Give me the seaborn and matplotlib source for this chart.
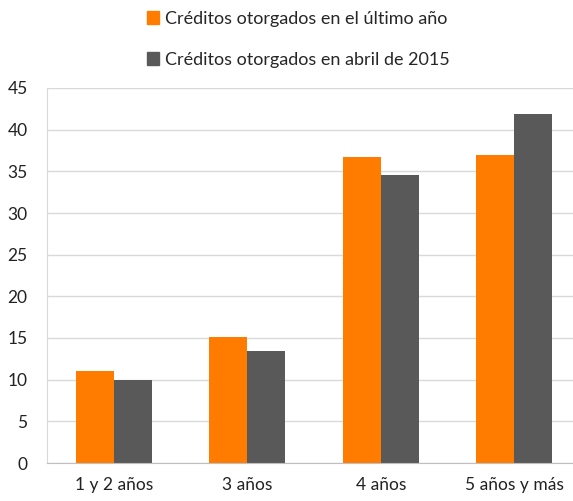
import numpy as np
import pandas as pd
import seaborn as sns
import matplotlib.pyplot as plt

sns.set_style('white')
plt.rcParams['font.family'] = ['Lato', 'DejaVu Sans']

# datos
categorias = ['1 y 2 años', '3 años', '4 años', '5 años y más']
serie_ultimo = [11.0, 15.1, 36.7, 37.0]
serie_abril = [10.0, 13.5, 34.6, 41.9]
nombres = ['Créditos otorgados en el último año', 'Créditos otorgados en abril de 2015']
colores = ['#FF7C00', '#595959']

df = pd.DataFrame({
    'categoria': categorias * 2,
    'valor': serie_ultimo + serie_abril,
    'serie': [nombres[0]] * 4 + [nombres[1]] * 4,
})

fig = plt.figure(figsize=(5.73, 5.01), dpi=100)
ax = fig.add_axes([47 / 573, 38 / 501, 534 / 573, 375 / 501])

sns.barplot(data=df, x='categoria', y='valor', hue='serie', palette=colores,
            width=0.57, ax=ax, legend=False, saturation=1, linewidth=0)

ax.set_xlim(-0.5, 3.5)
ax.set_ylim(0, 45)
ax.set_yticks(np.arange(0, 46, 5))
ax.yaxis.grid(True, color='#d9d9d9', linewidth=1)
ax.set_axisbelow(True)
ax.set_xlabel('')
ax.set_ylabel('')
ax.tick_params(axis='both', length=0, labelsize=12.5, colors='#222222')
ax.tick_params(axis='x', pad=10)
ax.tick_params(axis='y', pad=14)
for s in ['top', 'right']:
    ax.spines[s].set_visible(False)
ax.spines['left'].set_color('#d9d9d9')
ax.spines['bottom'].set_color('#bfbfbf')

handles = [plt.Rectangle((0, 0), 1, 1, color=c) for c in colores]
fig.legend(handles, nombres, loc='upper left', bbox_to_anchor=(136 / 573, 1.0),
           frameon=False, fontsize=13, labelspacing=1.4, handlelength=0.7,
           handleheight=0.7, handletextpad=0.3, borderaxespad=0.2)

fig.savefig('out.png', dpi=100)
